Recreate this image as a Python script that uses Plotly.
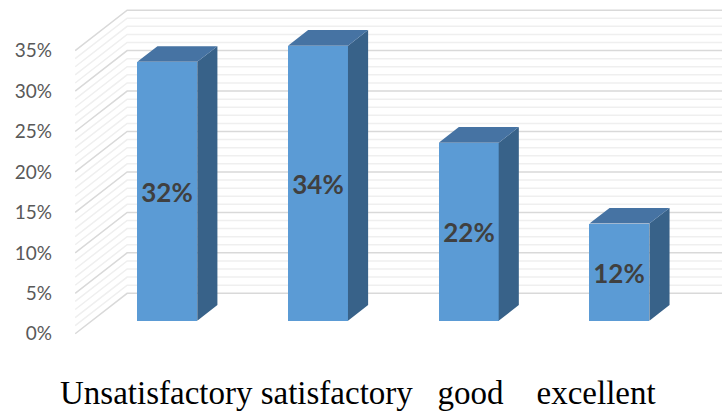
import plotly.graph_objects as go

# Chart data
CATEGORIES = ["Unsatisfactory", "satisfactory", "good", "excellent"]
VALUES = [32, 34, 22, 12]                     # percent
TICK_VALUES = [0, 5, 10, 15, 20, 25, 30, 35]
TICK_LABELS = ["0%", "5%", "10%", "15%", "20%", "25%", "30%", "35%"]
GRID_LEVELS = list(range(0, 36))              # one wall line per percent
GAPS = ["\u00a0", "\u00a0\u00a0\u00a0", "\u00a0\u00a0\u00a0\u00a0"]

# Oblique projection of the 3-D box
DEPTH_X = 0.345        # x shift (category units) from front plane to back wall
DEPTH_Y = 5.0          # y shift (percent units) from front plane to back wall
BAR_FRONT = 0.3226     # depth fraction of the bar front faces
BAR_BACK = 0.71        # depth fraction of the bar back faces
BAR_WIDTH = 0.398

FRONT_COLOR = "#5b9bd5"
TOP_COLOR = "#4673a3"
SIDE_COLOR = "#386289"
MAJOR_GRID = "#d9d9d9"
MINOR_GRID = "#efefef"

n = len(CATEGORIES)
wall_left = -0.5
wall_right = n - 0.5 + DEPTH_X

fig = go.Figure()

# Back wall and left side wall lines, kept underneath the bars
shapes = []
for major in (False, True):
    for v in GRID_LEVELS:
        if (v % 5 == 0) != major:
            continue
        path = (f"M {wall_left},{v} L {wall_left + DEPTH_X},{v + DEPTH_Y} "
                f"L {wall_right},{v + DEPTH_Y}")
        shapes.append(dict(
            type="path", path=path, xref="x", yref="y", layer="below",
            line=dict(color=MAJOR_GRID if major else MINOR_GRID, width=1.5),
        ))

# Top and side faces of the bars
ddx = (BAR_BACK - BAR_FRONT) * DEPTH_X
ddy = (BAR_BACK - BAR_FRONT) * DEPTH_Y
top_x, top_y, side_x, side_y = [], [], [], []
for i, v in enumerate(VALUES):
    xl = i - BAR_WIDTH / 2 + BAR_FRONT * DEPTH_X
    xr = xl + BAR_WIDTH
    yb = BAR_FRONT * DEPTH_Y
    yt = v + yb
    top_x += [xl, xr, xr + ddx, xl + ddx, xl, None]
    top_y += [yt, yt, yt + ddy, yt + ddy, yt, None]
    side_x += [xr, xr, xr + ddx, xr + ddx, xr, None]
    side_y += [yb, yt, yt + ddy, yb + ddy, yb, None]

# Front faces with value labels
fig.add_trace(go.Bar(
    x=[i + BAR_FRONT * DEPTH_X for i in range(n)],
    y=VALUES,
    base=[BAR_FRONT * DEPTH_Y] * n,
    width=BAR_WIDTH,
    marker=dict(color=FRONT_COLOR, line=dict(width=0)),
    text=[f"<b>{v}%</b>" for v in VALUES],
    textposition="inside",
    insidetextanchor="middle",
    textangle=0,
    textfont=dict(family="Lato", size=26, color="#404040"),
    hoverinfo="skip", showlegend=False,
))

fig.add_trace(go.Scatter(
    x=side_x, y=side_y, mode="lines", fill="toself", fillcolor=SIDE_COLOR,
    line=dict(width=0, color=SIDE_COLOR), hoverinfo="skip", showlegend=False,
))
fig.add_trace(go.Scatter(
    x=top_x, y=top_y, mode="lines", fill="toself", fillcolor=TOP_COLOR,
    line=dict(width=0, color=TOP_COLOR), hoverinfo="skip", showlegend=False,
))

# Category captions written as one line under the chart
caption = CATEGORIES[0]
for gap, name in zip(GAPS, CATEGORIES[1:]):
    caption += gap + name

fig.add_annotation(
    text=caption, xref="paper", yref="paper",
    x=-0.026, y=0.046, xanchor="left", yanchor="middle",
    showarrow=False,
    font=dict(family="Liberation Serif", size=33, color="#000000"),
)

fig.update_layout(
    width=722, height=412,
    margin=dict(l=75, r=0, t=0, b=0),
    paper_bgcolor="white", plot_bgcolor="white",
    shapes=shapes,
    xaxis=dict(range=[-0.501, 3.792], visible=False, fixedrange=True),
    yaxis=dict(
        range=[-9.672, 41.255],
        tickvals=TICK_VALUES, ticktext=TICK_LABELS,
        showgrid=False, zeroline=False, showline=False,
        ticks="", ticklabelstandoff=22,
        tickfont=dict(family="Lato", size=19, color="#595959"),
        fixedrange=True,
    ),
    bargap=0,
)

fig.write_html("out.html")
